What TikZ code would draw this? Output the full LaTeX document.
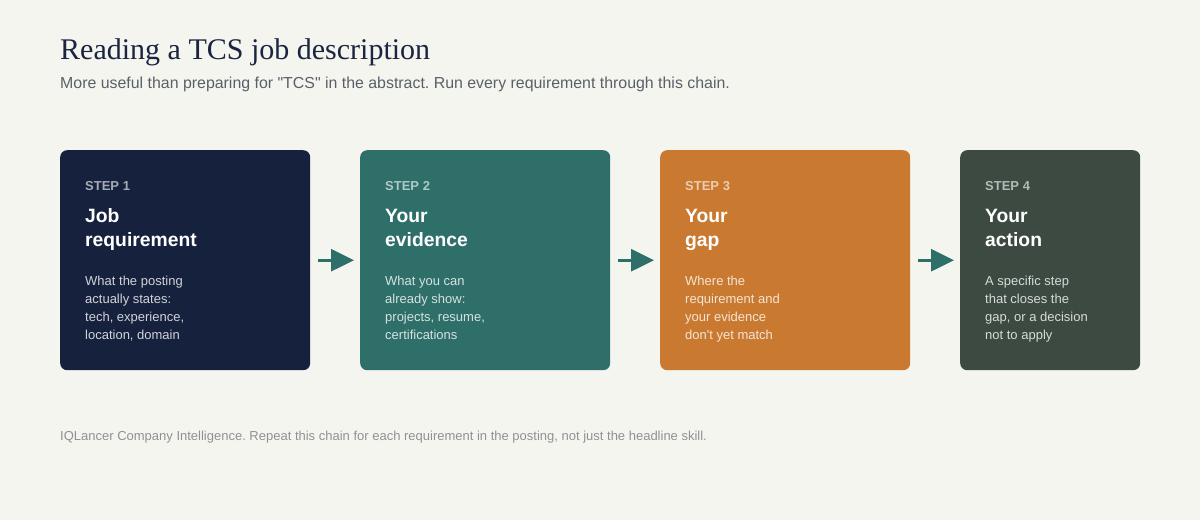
\documentclass[tikz,border=0pt]{standalone}
\usepackage{fontspec}
\setmainfont{Liberation Sans}[Ligatures=TeXOff]
\newfontfamily\seriffont{Liberation Serif}[Ligatures=TeXOff]
\usetikzlibrary{arrows.meta,calc}
\definecolor{bgc}{HTML}{F5F5F0}
\definecolor{navy}{HTML}{16223D}
\definecolor{teal}{HTML}{2F6F6A}
\definecolor{orng}{HTML}{C97A30}
\definecolor{slate}{HTML}{3C4A42}
\definecolor{titlec}{HTML}{1B2440}
\definecolor{subc}{HTML}{5A6068}
\definecolor{footc}{HTML}{8E9294}
\tikzset{
  x=1pt, y=-1pt,
  box/.style={draw=none, rounded corners=7pt, anchor=north west, minimum height=220pt, inner sep=0pt},
  steplbl/.style={anchor=base west, inner sep=0pt, font=\bfseries\fontsize{13}{16}\selectfont, text opacity=0.62, text=white},
  stephead/.style={anchor=base west, inner sep=0pt, align=left, text=white, font=\bfseries\fontsize{19.3}{24}\selectfont},
  stepdesc/.style={anchor=base west, inner sep=0pt, align=left, text=white, text opacity=0.8, font=\fontsize{13}{18}\selectfont},
  arr/.style={draw=teal, line width=3pt, -{Triangle[length=23pt,width=22pt]}, shorten <=8pt, shorten >=6pt},
}
\begin{document}
\frenchspacing
\begin{tikzpicture}
\fill[bgc] (0,0) rectangle (1200,520);
\useasboundingbox (0,0) rectangle (1200,520);
\node[anchor=base west, inner sep=0pt, text=titlec, font=\seriffont\fontsize{30}{34}\selectfont] (title) at (60,59) {Reading a TCS job description};
\node[anchor=base west, inner sep=0pt, text=subc, font=\fontsize{15.9}{20}\selectfont] (sub) at (60,88) {More useful than preparing for "TCS" in the abstract. Run every requirement through this chain.};

\node[box, fill=navy, minimum width=250pt] (b1) at (60,150) {};
\node[box, fill=teal, minimum width=250pt] (b2) at (360,150) {};
\node[box, fill=orng, minimum width=250pt] (b3) at (660,150) {};
\node[box, fill=slate, minimum width=180pt] (b4) at (960,150) {};

\foreach \b/\n/\h/\d in {
  b1/1/{Job\\requirement}/{What the posting\\actually states:\\tech, experience,\\location, domain},
  b2/2/{Your\\evidence}/{What you can\\already show:\\projects, resume,\\certifications},
  b3/3/{Your\\gap}/{Where the\\requirement and\\your evidence\\don't yet match},
  b4/4/{Your\\action}/{A specific step\\that closes the\\gap, or a decision\\not to apply}}{
  \node[steplbl] (\b-lbl) at ($(\b.north west)+(25,40)$) {STEP \n};
  \node[stephead] (\b-head) at ($(\b.north west)+(25,96)$) {\h};
  \node[stepdesc] (\b-desc) at ($(\b.north west)+(25,189)$) {\d};
}

\draw[arr] (b1) -- (b2);
\draw[arr] (b2) -- (b3);
\draw[arr] (b3) -- (b4);

\node[anchor=base west, inner sep=0pt, text=footc, font=\fontsize{13}{15}\selectfont] (foot) at (60,440) {IQLancer Company Intelligence. Repeat this chain for each requirement in the posting, not just the headline skill.};
\end{tikzpicture}
\end{document}
